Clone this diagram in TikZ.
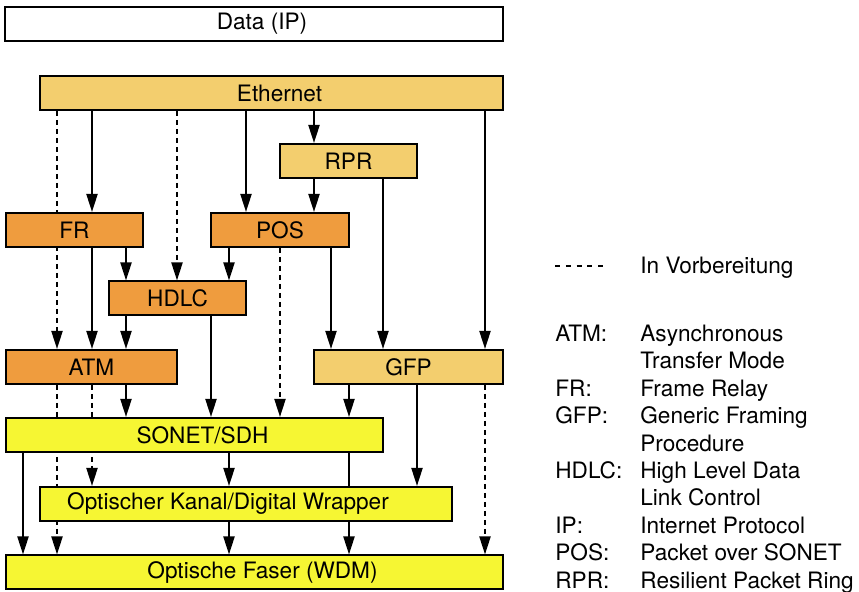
\documentclass[tikz,border=0pt]{standalone}
\usepackage{fontspec}
\setmainfont{TeX Gyre Heros}
\usetikzlibrary{arrows.meta,backgrounds}

\definecolor{ethgold}{HTML}{F3CE6E}
\definecolor{linkorange}{HTML}{EF9C3E}
\definecolor{phyyellow}{HTML}{F6F633}

\tikzset{
  stackbox/.style={draw,line width=1pt,minimum height=17pt,inner sep=0pt,
    font=\fontsize{11.3}{13.5}\selectfont},
  flow/.style={-{Triangle[length=9pt,width=5.5pt]},line width=1pt},
  planned/.style={flow,dash pattern=on 2.5pt off 2pt},
  legend/.style={anchor=base west,inner sep=0pt,font=\fontsize{11.3}{13.5}\selectfont}
}

\begin{document}
\begin{tikzpicture}[x=0.5pt,y=-0.5pt]
  \useasboundingbox (0,0) rectangle (859,592);
  % protocol stack
  \node[stackbox,minimum width=249pt] (data) at (254,24) {\hspace*{8pt}Data (IP)};
  \node[stackbox,fill=ethgold,minimum width=231.5pt] (eth) at (271.5,93) {\hspace*{8pt}Ethernet};
  \node[stackbox,fill=ethgold,minimum width=68.5pt] (rpr) at (348.5,161) {RPR};
  \node[stackbox,fill=linkorange,minimum width=68.5pt] (fr) at (74.5,230) {FR};
  \node[stackbox,fill=linkorange,minimum width=69pt] (pos) at (280,230) {POS};
  \node[stackbox,fill=linkorange,minimum width=68.5pt] (hdlc) at (177.5,298.5) {HDLC};
  \node[stackbox,fill=linkorange,minimum width=85.5pt] (atm) at (91.5,367) {ATM};
  \node[stackbox,fill=ethgold,minimum width=94.5pt] (gfp) at (408.5,367) {GFP};
  \node[stackbox,fill=phyyellow,minimum width=188.5pt] (sonet) at (194.5,435) {\hspace*{8pt}SONET/SDH};
  \node[stackbox,fill=phyyellow,minimum width=206pt] (och) at (246,504) {Optischer Kanal/Digital Wrapper\hspace*{18pt}};
  \node[stackbox,fill=phyyellow,minimum width=248.5pt] (fiber) at (254.5,572.5) {\hspace*{8pt}Optische Faser (WDM)};
  % mappings, behind the boxes
  \begin{scope}[on background layer]
    \foreach \src/\dst/\xpos in {eth/fr/92,eth/pos/246,eth/rpr/314,eth/gfp/485,
        rpr/pos/314,rpr/gfp/383,fr/hdlc/126,fr/atm/92,pos/hdlc/229,pos/gfp/331,
        hdlc/atm/126,hdlc/sonet/211,atm/sonet/126,gfp/sonet/349,gfp/och/417,
        sonet/och/229,sonet/fiber/23,sonet/fiber/349,och/fiber/229}
      \draw[flow] (\src.south -| \xpos,0) -- (\dst.north -| \xpos,0);
    \foreach \src/\dst/\xpos in {eth/atm/57,eth/hdlc/177,pos/sonet/280,
        atm/och/92,atm/fiber/57,gfp/fiber/485}
      \draw[planned] (\src.south -| \xpos,0) -- (\dst.north -| \xpos,0);
  \end{scope}
  % legend
  \coordinate (dash-a) at (555,266);
  \coordinate (dash-b) at (603,266);
  \draw[line width=0.75pt,dash pattern=on 2.5pt off 2.9pt] (dash-a) -- (dash-b);
  \node[legend] (planned-text) at (640,274) {In Vorbereitung};
  \foreach \short/\row in {ATM:/0,FR:/2,GFP:/3,HDLC:/5,IP:/7,POS:/8,RPR:/9}
    \node[legend] (term-\row) at (555,{341.5+27.4*\row}) {\short};
  \foreach \longname/\row in {Asynchronous/0,Transfer Mode/1,Frame Relay/2,
      Generic Framing/3,Procedure/4,High Level Data/5,Link Control/6,
      Internet Protocol/7,Packet over SONET/8,Resilient Packet Ring/9}
    \node[legend] (desc-\row) at (640,{341.5+27.4*\row}) {\longname};
\end{tikzpicture}
\end{document}
